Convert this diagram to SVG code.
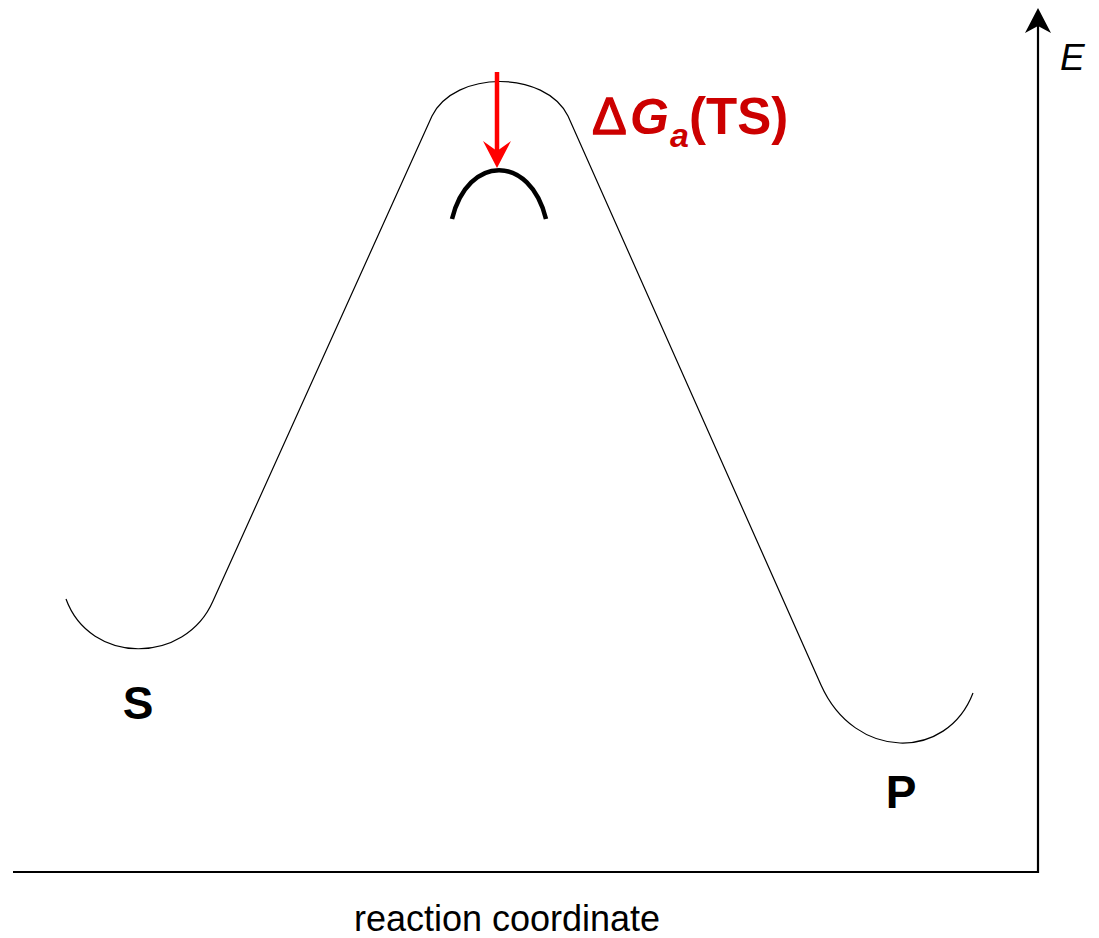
<svg xmlns="http://www.w3.org/2000/svg" width="1099" height="938" viewBox="0 0 1099 938">
<style>
.lbl{font-family:"Liberation Sans",Arial,sans-serif;fill:#000}
.red{font-family:"Liberation Sans",Arial,sans-serif;fill:#cc0000}
</style>
<rect width="1099" height="938" fill="#fff"/>
<g id="axes">
<path d="M13,872 H1038 V26" fill="none" stroke="#000" stroke-width="2.2"/>
<polygon points="1038,8 1025,33 1038,26 1051,33" fill="#000"/>
<text class="lbl" x="1060" y="70" font-size="37" font-style="italic">E</text>
<text class="lbl" x="507" y="931" font-size="36" text-anchor="middle">reaction coordinate</text>
</g>
<g id="connectors">
<path d="M66,599 C90,665 185,665 213,601 L432,116 C455,70 545,70 568,116 L821,685 C855,761 947,761 973,693" fill="none" stroke="#000" stroke-width="1.2"/>
</g>
<g id="S">
<text class="lbl" x="138" y="719" font-size="46" font-weight="bold" text-anchor="middle">S</text>
</g>
<g id="P">
<text class="lbl" x="901" y="808" font-size="46" font-weight="bold" text-anchor="middle">P</text>
</g>
<g id="TS">
<path d="M452,219 C468,154 530,154 546,219" fill="none" stroke="#000" stroke-width="4.5"/>
<line x1="497" y1="72" x2="497" y2="152" stroke="#ff0000" stroke-width="4.5"/>
<polygon points="497,168 483,141 497,151 511,141" fill="#ff0000"/>
<text class="red" y="134" font-size="50" font-weight="bold"><tspan x="592" font-size="52" font-weight="normal" stroke="#cc0000" stroke-width="1.3">Δ</tspan><tspan x="630" font-style="italic">G</tspan></text>
<text class="red" x="670" y="147" font-size="34" font-weight="bold" font-style="italic">a</text>
<text class="red" x="689" y="134" font-size="51" font-weight="bold">(TS)</text>
</g>
</svg>
